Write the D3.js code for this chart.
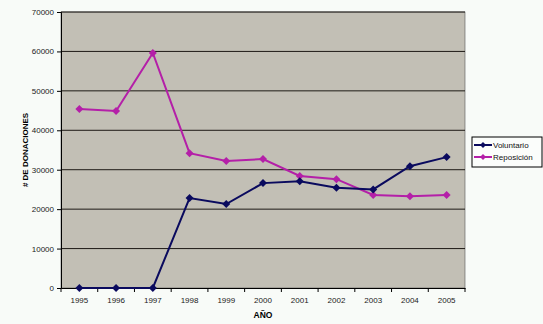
<!DOCTYPE html>
<html><head><meta charset="utf-8">
<script src="https://cdn.jsdelivr.net/npm/d3@7"></script>
<style>
body{margin:0;background:#f8fbf8;}
svg{display:block;font-family:Arial,"Liberation Sans",sans-serif;}
</style></head>
<body><svg id="c" width="543" height="324"></svg>
<script>
const years = ["1995","1996","1997","1998","1999","2000","2001","2002","2003","2004","2005"];
const voluntario = [0,0,0,22800,21300,26600,27100,25400,25000,30900,33200];
const reposicion = [45400,44900,59600,34200,32200,32700,28400,27600,23600,23300,23600];
const seriesNames = ["Voluntario","Reposición"];
const seriesColors = ["#0a0a5e","#b41fa8"];
const yTicks = [0,10000,20000,30000,40000,50000,60000,70000];

const svg = d3.select("#c");
const L=61,R=465,T=12,B=288;
const x = d3.scaleBand().domain(years).range([L,R]);
const y = d3.scaleLinear().domain([0,70000]).range([B,T]);

svg.append("rect").attr("x",L).attr("y",T).attr("width",R-L).attr("height",B-T).attr("fill","#c2bfb5").attr("stroke","#555").attr("stroke-width",0.6);

svg.append("g").selectAll("line").data(yTicks.slice(1)).join("line")
 .attr("x1",L).attr("x2",R).attr("y1",d=>y(d)).attr("y2",d=>y(d))
 .attr("stroke","#1e1a16").attr("stroke-width",1);

const ya = svg.append("g").attr("transform",`translate(${L},0)`)
 .call(d3.axisLeft(y).tickValues(yTicks).tickSize(4).tickPadding(3).tickFormat(d3.format("d")));
ya.select(".domain").attr("stroke","#000");
ya.selectAll("text").attr("font-size",8).attr("fill","#222");

const xa = svg.append("g").attr("transform",`translate(0,${B})`)
 .call(d3.axisBottom(x).tickSize(0).tickPadding(9));
xa.select(".domain").attr("stroke","#000").attr("stroke-width",1.2);
xa.selectAll("text").attr("font-size",8).attr("fill","#222");
svg.append("g").selectAll("line").data(years.concat(["end"])).join("line")
 .attr("x1",(d,i)=>L+i*x.step()).attr("x2",(d,i)=>L+i*x.step())
 .attr("y1",B).attr("y2",B+4).attr("stroke","#000");

svg.append("text").attr("x",(L+R)/2).attr("y",318).attr("text-anchor","middle")
 .attr("font-size",8.5).attr("font-weight","bold").text("AÑO");
svg.append("text").attr("transform",`translate(28,${(T+B)/2}) rotate(-90)`).attr("text-anchor","middle")
 .attr("font-size",8).attr("font-weight","bold").text("# DE DONACIONES");

const data = [voluntario,reposicion];
const line = d3.line().x((d,i)=>x(years[i])+x.bandwidth()/2).y(d=>y(d));
const diamond = r => `M0,${-r}L${r},0L0,${r}L${-r},0Z`;
[1,0].forEach(s=>{
  const g = svg.append("g");
  g.append("path").attr("d",line(data[s])).attr("fill","none").attr("stroke",seriesColors[s]).attr("stroke-width",2);
  g.selectAll("path.m").data(data[s]).join("path").attr("class","m")
   .attr("d",diamond(4)).attr("fill",seriesColors[s])
   .attr("transform",(d,i)=>`translate(${x(years[i])+x.bandwidth()/2},${y(d)})`);
});

const lg = svg.append("g");
lg.append("rect").attr("x",472).attr("y",137).attr("width",70).attr("height",30).attr("fill","#fbfdfb").attr("stroke","#000").attr("stroke-width",1);
seriesNames.forEach((n,i)=>{
  const yy = 145 + i*12;
  lg.append("line").attr("x1",474).attr("x2",492).attr("y1",yy).attr("y2",yy).attr("stroke",seriesColors[i]).attr("stroke-width",2);
  lg.append("path").attr("d",diamond(3)).attr("fill",seriesColors[i]).attr("transform",`translate(483,${yy})`);
  lg.append("text").attr("x",493).attr("y",yy+3).attr("font-size",8).attr("fill","#111").text(n);
});
</script></body></html>
